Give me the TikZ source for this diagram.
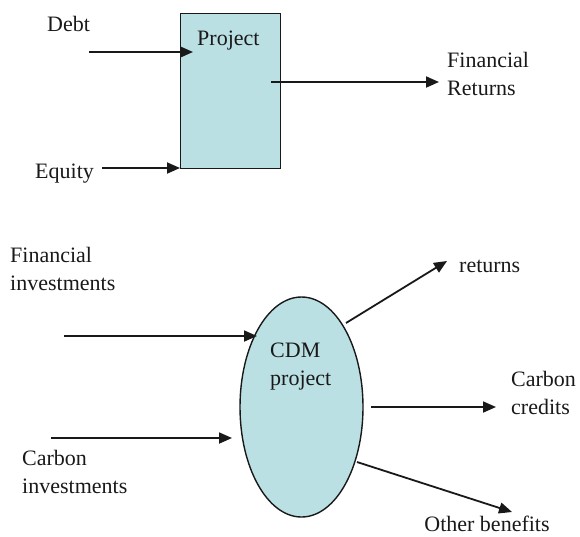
\documentclass[tikz,border=0pt]{standalone}
\usepackage{fontspec}
\setmainfont{Liberation Serif}
\usetikzlibrary{arrows.meta,shapes.geometric}
\definecolor{paleblue}{RGB}{187,224,227}
\begin{document}
\begin{tikzpicture}[x=1pt,y=-1pt,
  lbl/.style={inner sep=0pt, font=\fontsize{22}{27.5}\selectfont, align=left, text=black!90, anchor=base west},
  arr/.style={line width=1.8pt, draw=black!90, -{Triangle[length=13pt,width=11pt]}},
  shapefill/.style={fill=paleblue, draw=black!90, line width=1.4pt}]
\useasboundingbox (0,0) rectangle (580,536);
% top diagram
\node[shapefill, minimum width=100pt, minimum height=155pt, inner sep=0pt, anchor=north west] (proj) at (180,13) {};
\node[lbl] (projt) at (197,45) {Project};
\node[lbl] (debt) at (47,31) {Debt};
\node[lbl] (equity) at (35,178) {Equity};
\node[lbl] (finret) at (447,95) {Financial\\Returns};
\coordinate (debtS) at (89,52);
\coordinate (debtE) at (193,52);
\coordinate (eqS) at (102,168);
\coordinate (eqE) at (180,168);
\coordinate (finS) at (271,82);
\coordinate (finE) at (439,82);
\draw[arr] (debtS) -- (debtE);
\draw[arr] (eqS) -- (eqE);
\draw[arr] (finS) -- (finE);
% bottom diagram
\node[shapefill, ellipse, minimum width=123pt, minimum height=220pt, inner sep=0pt] (cdm) at (301.5,407) {};
\node[lbl] (cdmt) at (270,385) {CDM\\project};
\node[lbl] (fininv) at (10,290) {Financial\\investments};
\node[lbl] (carbinv) at (22,493) {Carbon\\investments};
\node[lbl] (ret) at (459,272) {returns};
\node[lbl] (cc) at (511,414) {Carbon\\credits};
\node[lbl, anchor=base] (ob) at (487,531) {Other benefits};
\coordinate (fiS) at (64,336);
\coordinate (fiE) at (257,336);
\coordinate (ciS) at (51,438);
\coordinate (ciE) at (232,438);
\coordinate (rS) at (346,323);
\coordinate (rE) at (447,261);
\coordinate (ccS) at (371,407);
\coordinate (ccE) at (496,407);
\coordinate (obS) at (357,462);
\coordinate (obE) at (512,512);
\draw[arr] (fiS) -- (fiE);
\draw[arr] (ciS) -- (ciE);
\draw[arr] (rS) -- (rE);
\draw[arr] (ccS) -- (ccE);
\draw[arr] (obS) -- (obE);
\end{tikzpicture}
\end{document}
